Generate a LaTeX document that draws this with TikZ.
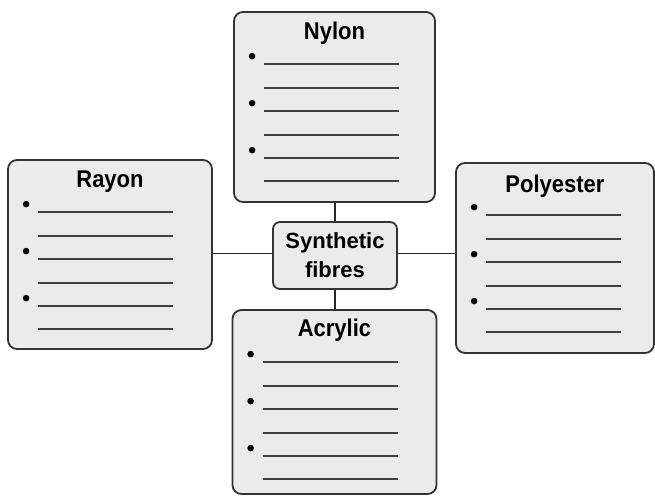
\documentclass[tikz,border=0pt]{standalone}
\usepackage{fontspec}
\setmainfont{Liberation Sans}
\begin{document}
\begin{tikzpicture}[x=1pt,y=-1pt,
  fibrebox/.style={draw=black!80, line width=1.8pt, fill=black!8, rounded corners=9pt, inner sep=0pt},
  titletext/.style={font=\bfseries\fontsize{22}{26}\selectfont, inner sep=0pt, anchor=center, yscale=1.1},
  centerbox/.style={draw=black!80, line width=1.8pt, fill=black!8, rounded corners=7pt, minimum width=124pt, minimum height=67pt, align=center, font=\bfseries\fontsize{22}{29}\selectfont, inner sep=0pt},
  rule/.style={draw=black!75, line width=2.2pt},
  conn/.style={draw=black!85, line width=1.8pt}]
\useasboundingbox (0,0) rectangle (655,497);
\newcommand\fibrecontent[1]{%
  \foreach \by in {45,92,139} \fill[black] ([xshift=19pt,yshift=-\by pt]#1.north west) circle (3.3pt);
  \foreach \ly in {53,77,100,124,147,170} \draw[rule] ([xshift=31pt,yshift=-\ly pt]#1.north west) -- ([xshift=166pt,yshift=-\ly pt]#1.north west);
}
% boxes
\node[fibrebox, minimum width=201pt, minimum height=190pt] (nylon) at (334.5,107) {};
\node[fibrebox, minimum width=204pt, minimum height=189pt] (rayon) at (110,254.5) {};
\node[fibrebox, minimum width=198pt, minimum height=190pt] (poly) at (555,258) {};
\node[fibrebox, minimum width=204pt, minimum height=184pt] (acryl) at (334.5,402) {};
\node[centerbox] (center) at (335,255.5) {Synthetic\\fibres};
% titles
\node[titletext] (nylonT) at ([yshift=-22pt]nylon.north) {Nylon};
\node[titletext] (rayonT) at ([yshift=-23pt]rayon.north) {Rayon};
\node[titletext] (polyT) at ([yshift=-24pt]poly.north) {Polyester};
\node[titletext] (acrylT) at ([yshift=-21pt]acryl.north) {Acrylic};
% content
\fibrecontent{nylon}
\fibrecontent{rayon}
\fibrecontent{poly}
\fibrecontent{acryl}
% connectors
\draw[conn] (center.north) -- (center.north |- nylon.south);
\draw[conn] (center.south) -- (center.south |- acryl.north);
\draw[conn] ([yshift=2pt]center.west) -- ([yshift=2pt]center.west -| rayon.east);
\draw[conn] ([yshift=2pt]center.east) -- ([yshift=2pt]center.east -| poly.west);
\end{tikzpicture}
\end{document}
